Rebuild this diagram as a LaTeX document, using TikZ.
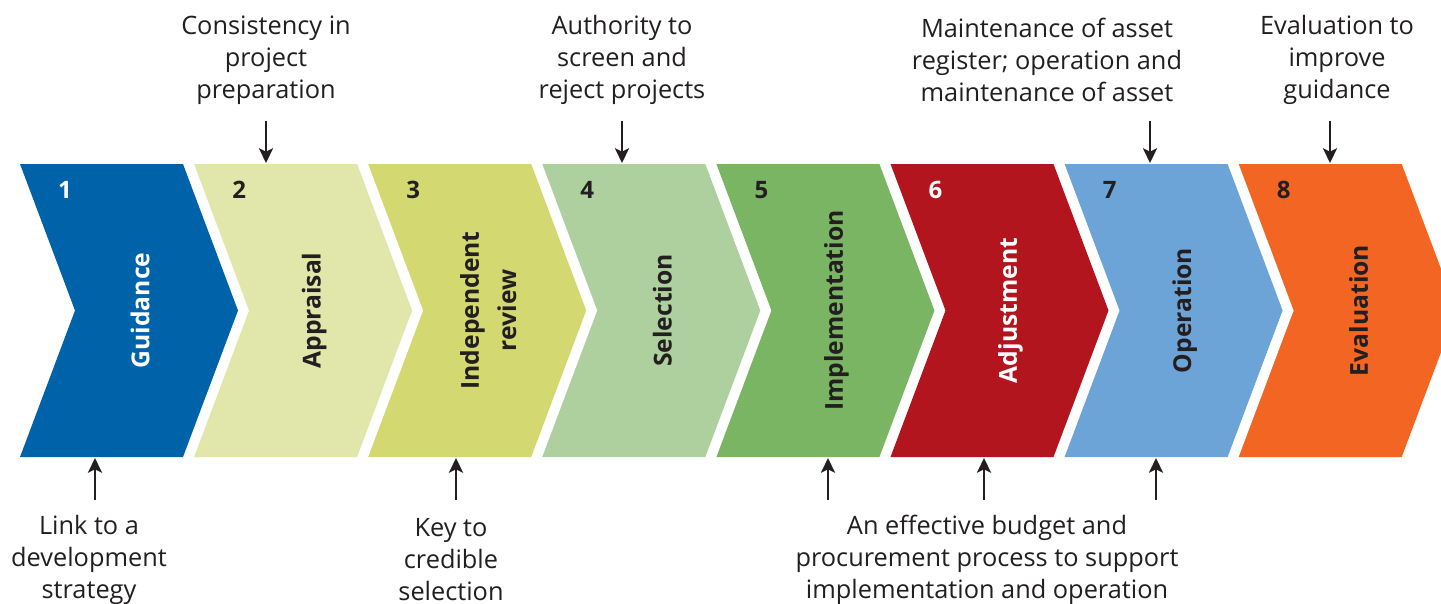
\documentclass[tikz,border=0pt]{standalone}
\usepackage{fontspec}
\setmainfont{Open Sans}
\usetikzlibrary{arrows.meta}
\definecolor{cA}{HTML}{0062A9}
\definecolor{cB}{HTML}{E1E6AA}
\definecolor{cC}{HTML}{D4D870}
\definecolor{cD}{HTML}{ADD09E}
\definecolor{cE}{HTML}{7AB563}
\definecolor{cF}{HTML}{B3151F}
\definecolor{cG}{HTML}{6DA4D7}
\definecolor{cH}{HTML}{F26522}
\definecolor{ink}{HTML}{231F20}
\tikzset{
  num/.style={font=\bfseries\fontsize{18}{22}\selectfont, inner sep=0pt},
  lab/.style={font=\bfseries\fontsize{18.5}{28}\selectfont, rotate=90, align=center, inner sep=0pt},
  ann/.style={font=\fontsize{19}{24}\selectfont, text=ink, align=center, inner sep=0pt},
  arr/.style={-{Stealth[length=11pt,width=10.5pt,inset=2.5pt]}, line width=1.7pt, draw=ink}
}
\newcommand\mychev[4]{%
  \pgfmathsetmacro\xo{20+174.1*(#1-1)}
  \fill[#2] (\xo,164) -- ++(163,0) -- ++(55,146.5) -- ++(-55,146.5) -- ++(-163,0) -- ++(55,-146.5) -- cycle;
  \node[num,text=#3] (n#1) at (\xo+45,190) {#1};
  \node[lab,text=#3] (c#1) at (\xo+120,310.5) {#4};
}
\begin{document}
\begin{tikzpicture}[x=0.75pt,y=-0.75pt]
\useasboundingbox (0,0) rectangle (1441,603);
\clip (0,0) rectangle (1441,603);
\fill[white] (0,0) rectangle (1441,603);
\mychev{1}{cA}{white}{Guidance}
\mychev{2}{cB}{ink}{Appraisal}
\mychev{3}{cC}{ink}{Independent\\review}
\mychev{4}{cD}{ink}{Selection}
\mychev{5}{cE}{ink}{Implementation}
\mychev{6}{cF}{white}{Adjustment}
\mychev{7}{cG}{ink}{Operation}
\mychev{8}{cH}{ink}{Evaluation}
% top annotations
\node[ann] (t2) at (266,60) {Consistency in\\project\\preparation};
\node[ann] (t4) at (622,60) {Authority to\\screen and\\reject projects};
\node[ann] (t7) at (1047,60) {Maintenance of asset\\register; operation and\\maintenance of asset};
\node[ann] (t8) at (1337,60) {Evaluation to\\improve\\guidance};
% bottom annotations
\node[ann] (b1) at (89,560) {Link to a\\development\\strategy};
\node[ann] (b3) at (451,560) {Key to\\credible\\selection};
\node[ann] (b5) at (987,560) {An effective budget and\\procurement process to support\\implementation and operation};
% arrow endpoints
\coordinate (s2) at (266,121); \coordinate (e2) at (266,163);
\coordinate (s4) at (622,121); \coordinate (e4) at (622,163);
\coordinate (s7) at (1150,121); \coordinate (e7) at (1150,163);
\coordinate (s8) at (1330,121); \coordinate (e8) at (1330,163);
\coordinate (u1) at (95,500); \coordinate (v1) at (95,458);
\coordinate (u3) at (456,500); \coordinate (v3) at (456,458);
\coordinate (u5) at (828,500); \coordinate (v5) at (828,458);
\coordinate (u6) at (984,500); \coordinate (v6) at (984,458);
\coordinate (u7) at (1156,500); \coordinate (v7) at (1156,458);
\foreach \a/\b in {s2/e2,s4/e4,s7/e7,s8/e8,u1/v1,u3/v3,u5/v5,u6/v6,u7/v7}
  \draw[arr] (\a) -- (\b);
\end{tikzpicture}
\end{document}
